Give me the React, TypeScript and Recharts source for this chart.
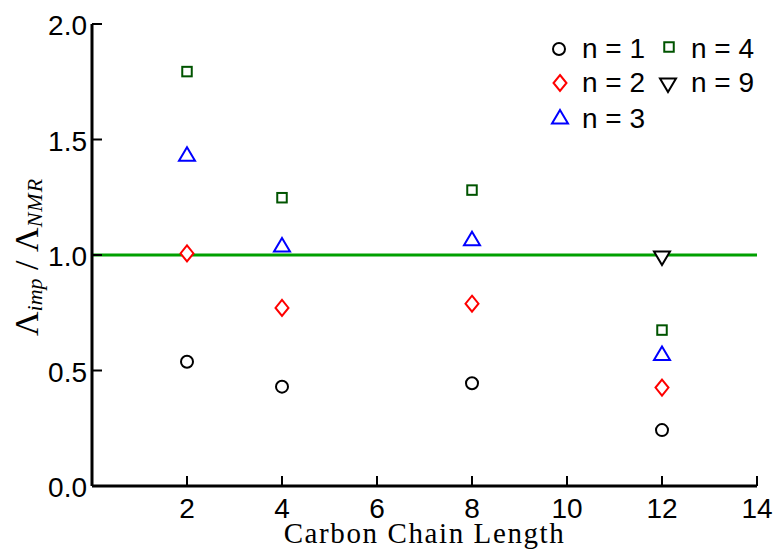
import React from "react";
import {
  ScatterChart,
  Scatter,
  XAxis,
  YAxis,
  ReferenceLine,
  Legend,
} from "recharts";

// Carbon chain lengths on the x axis
const chainLength = [2, 4, 8, 12];

// Ratio Λimp / ΛNMR for each n
const n1 = [0.538, 0.43, 0.445, 0.242];
const n2 = [1.007, 0.771, 0.789, 0.426];
const n3 = [1.436, 1.043, 1.07, 0.574];
const n4 = [1.794, 1.248, 1.281, 0.675];
const n9Length = [12];
const n9 = [0.987];

const xTicks = [2, 4, 6, 8, 10, 12, 14];
const yTicks = [0, 0.5, 1, 1.5, 2];

const toPoints = (xs: number[], ys: number[]) =>
  xs.map((x, i) => ({ x, y: ys[i] }));

const SANS = "'Liberation Sans', Arial, Helvetica, sans-serif";
const SERIF = "'Liberation Serif', 'Times New Roman', serif";

const GREEN_LINE = "#00a000";
const DARK_GREEN = "#005400";

// ---- marker shapes ----
const CircleMark = ({ cx, cy }: any) => (
  <circle cx={cx} cy={cy} r={6} fill="#fff" stroke="#000" strokeWidth={2} />
);
const DiamondMark = ({ cx, cy }: any) => (
  <polygon
    points={`${cx},${cy - 8} ${cx + 6.5},${cy} ${cx},${cy + 8} ${cx - 6.5},${cy}`}
    fill="#fff"
    stroke="#ff0000"
    strokeWidth={2}
  />
);
const TriUpMark = ({ cx, cy }: any) => (
  <polygon
    points={`${cx},${cy - 7} ${cx + 8},${cy + 6.5} ${cx - 8},${cy + 6.5}`}
    fill="#fff"
    stroke="#0000ff"
    strokeWidth={2}
  />
);
const SquareMark = ({ cx, cy }: any) => (
  <rect
    x={cx - 4.75}
    y={cy - 4.75}
    width={9.5}
    height={9.5}
    fill="#fff"
    stroke={DARK_GREEN}
    strokeWidth={2}
  />
);
const TriDownMark = ({ cx, cy }: any) => (
  <polygon
    points={`${cx - 8},${cy - 6.5} ${cx + 8},${cy - 6.5} ${cx},${cy + 7}`}
    fill="#fff"
    stroke="#000"
    strokeWidth={2}
  />
);

// ---- axis ticks (drawn inward) ----
const TICK_LEN = 10;

const BottomTick = ({ x, y, payload }: any) => (
  <g>
    <line x1={x} x2={x} y1={y} y2={y - TICK_LEN} stroke="#000" strokeWidth={2} />
    <text x={x} y={y + 32} textAnchor="middle" fontFamily={SANS} fontSize={28} fill="#000">
      {payload.value}
    </text>
  </g>
);
const TopTick = ({ x, y }: any) => (
  <line x1={x} x2={x} y1={y} y2={y + TICK_LEN} stroke="#000" strokeWidth={2} />
);
const LeftTick = ({ x, y, payload }: any) => (
  <g>
    <line x1={x} x2={x + TICK_LEN} y1={y} y2={y} stroke="#000" strokeWidth={2} />
    <text x={x - 5} y={y + 11} textAnchor="end" fontFamily={SANS} fontSize={28} fill="#000">
      {Number(payload.value).toFixed(1)}
    </text>
  </g>
);
const RightTick = ({ x, y }: any) => (
  <line x1={x} x2={x - TICK_LEN} y1={y} y2={y} stroke="#000" strokeWidth={2} />
);

// ---- y axis title: Λimp / ΛNMR ----
const YTitle = ({ viewBox }: any) => {
  const cx = viewBox.x + 38;
  const cy = viewBox.y + viewBox.height / 2 + 2;
  return (
    <text
      x={cx}
      y={cy}
      transform={`rotate(-90 ${cx} ${cy})`}
      textAnchor="middle"
      fontFamily={SERIF}
      fontSize={34}
      fill="#000"
    >
      <tspan>Λ</tspan>
      <tspan fontSize={22} fontStyle="italic" dy={4}>imp</tspan>
      <tspan dy={-4}> / Λ</tspan>
      <tspan fontSize={22} fontStyle="italic" dy={4} letterSpacing={1}>NMR</tspan>
    </text>
  );
};

const XTitle = ({ viewBox }: any) => (
  <text
    x={viewBox.x + viewBox.width / 2}
    y={viewBox.y + 57}
    textAnchor="middle"
    fontFamily={SERIF}
    fontSize={29}
    letterSpacing={1.6}
    fill="#000"
  >
    Carbon Chain Length
  </text>
);

// ---- legend ----
const legendItems = [
  { label: "n = 1", Mark: CircleMark, mx: 19, my: 25, tx: 42, ty: 34 },
  { label: "n = 2", Mark: DiamondMark, mx: 20, my: 59, tx: 42, ty: 68 },
  { label: "n = 3", Mark: TriUpMark, mx: 20, my: 93, tx: 42, ty: 104 },
  { label: "n = 4", Mark: SquareMark, mx: 129, my: 23, tx: 151, ty: 34 },
  { label: "n = 9", Mark: TriDownMark, mx: 128, my: 61, tx: 151, ty: 68 },
];

const LegendBox = () => (
  <svg width={222} height={120} style={{ overflow: "visible", display: "block" }}>
    {legendItems.map(({ label, Mark, mx, my, tx, ty }) => (
      <g key={label}>
        <Mark cx={mx} cy={my} />
        <text x={tx} y={ty} fontFamily={SANS} fontSize={28} fill="#000">
          {label}
        </text>
      </g>
    ))}
  </svg>
);

const axisLine = { stroke: "#000", strokeWidth: 3 };

export default function App() {
  return (
    <div style={{ position: "absolute", left: 0, top: 0, width: 774, height: 550, background: "#fff" }}>
      <ScatterChart
        width={774}
        height={550}
        margin={{ top: 24, right: 17, bottom: 0, left: 0 }}
      >
        <XAxis
          xAxisId="b"
          type="number"
          dataKey="x"
          domain={[0, 14]}
          ticks={xTicks}
          interval={0}
          height={64}
          tickSize={0}
          tickMargin={0}
          tickLine={false}
          axisLine={axisLine}
          tick={<BottomTick />}
          allowDataOverflow
          label={<XTitle />}
        />
        <XAxis
          xAxisId="t"
          orientation="top"
          type="number"
          dataKey="x"
          domain={[0, 14]}
          ticks={xTicks}
          interval={0}
          height={0}
          tickSize={0}
          tickMargin={0}
          tickLine={false}
          axisLine={axisLine}
          tick={<TopTick />}
          allowDataOverflow
        />
        <YAxis
          yAxisId="l"
          type="number"
          dataKey="y"
          domain={[0, 2]}
          ticks={yTicks}
          interval={0}
          width={92}
          tickSize={0}
          tickMargin={0}
          tickLine={false}
          axisLine={axisLine}
          tick={<LeftTick />}
          allowDataOverflow
          label={<YTitle />}
        />
        <YAxis
          yAxisId="r"
          orientation="right"
          type="number"
          dataKey="y"
          domain={[0, 2]}
          ticks={yTicks}
          interval={0}
          width={0}
          tickSize={0}
          tickMargin={0}
          tickLine={false}
          axisLine={axisLine}
          tick={<RightTick />}
          allowDataOverflow
        />
        <ReferenceLine
          xAxisId="b"
          yAxisId="l"
          y={1}
          stroke={GREEN_LINE}
          strokeWidth={3}
        />
        <Scatter name="n = 1" xAxisId="b" yAxisId="l" data={toPoints(chainLength, n1)} shape={<CircleMark />} isAnimationActive={false} />
        <Scatter name="n = 2" xAxisId="b" yAxisId="l" data={toPoints(chainLength, n2)} shape={<DiamondMark />} isAnimationActive={false} />
        <Scatter name="n = 3" xAxisId="b" yAxisId="l" data={toPoints(chainLength, n3)} shape={<TriUpMark />} isAnimationActive={false} />
        <Scatter name="n = 4" xAxisId="b" yAxisId="l" data={toPoints(chainLength, n4)} shape={<SquareMark />} isAnimationActive={false} />
        <Scatter name="n = 9" xAxisId="b" yAxisId="l" data={toPoints(n9Length, n9)} shape={<TriDownMark />} isAnimationActive={false} />
        <Legend
          layout="horizontal"
          align="center"
          verticalAlign="middle"
          content={() => <LegendBox />}
          wrapperStyle={{ left: 540, top: 24, width: 222, height: 120 }}
        />
      </ScatterChart>
    </div>
  );
}
